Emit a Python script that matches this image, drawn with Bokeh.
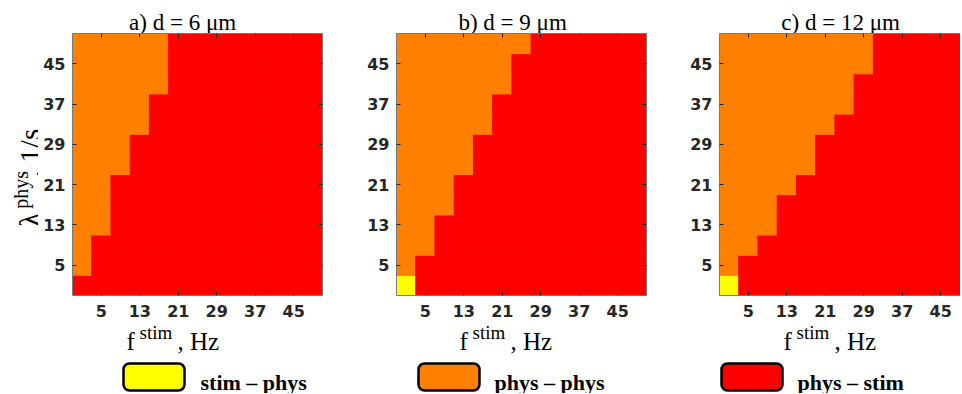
import numpy as np
from bokeh.plotting import figure
from bokeh.models import ColumnDataSource, FixedTicker, LinearAxis, Range1d
from bokeh.layouts import row, column
from bokeh.transform import factor_cmap
from bokeh.core.properties import value
from bokeh.embed import file_html
from bokeh.resources import INLINE

# ---------------- data ----------------
f_stim = [1, 5, 9, 13, 17, 21, 25, 29, 33, 37, 41, 45, 49]          # Hz (column centres)
lambda_phys = [1, 5, 9, 13, 17, 21, 25, 29, 33, 37, 41, 45, 49]     # 1/s (row centres)
tick_values = [5, 13, 21, 29, 37, 45]
regimes = ["stim – phys", "phys – phys", "phys – stim"]
regime_colors = ["#FFFF00", "#FF8000", "#FF0000"]
panel_titles = ["a) d =  6 μm", "b) d =  9 μm", "c) d =  12 μm"]

# per row (lambda ascending): number of columns (from low f) that are NOT phys – stim
nonstim_cols_a = [0, 1, 1, 2, 2, 2, 3, 3, 4, 4, 5, 5, 5]
nonstim_cols_b = [1, 1, 2, 2, 3, 3, 4, 4, 5, 5, 6, 6, 7]
nonstim_cols_c = [1, 1, 2, 3, 3, 4, 5, 5, 6, 7, 7, 8, 8]
# per row: number of columns (from low f) that are stim – phys
stimphys_cols_a = [0, 0, 0, 0, 0, 0, 0, 0, 0, 0, 0, 0, 0]
stimphys_cols_b = [1, 0, 0, 0, 0, 0, 0, 0, 0, 0, 0, 0, 0]
stimphys_cols_c = [1, 0, 0, 0, 0, 0, 0, 0, 0, 0, 0, 0, 0]

panels = [
    (nonstim_cols_a, stimphys_cols_a),
    (nonstim_cols_b, stimphys_cols_b),
    (nonstim_cols_c, stimphys_cols_c),
]

# ---------------- layout (pixels) ----------------
TOTAL_W = 960
TOP_H = 33
FRAME_H = 262
MID_BT, MID_BB = 0, 28
MID_H = MID_BT + FRAME_H + MID_BB          # 290
BOT_H = 70
YLAB_W = 38
px_per_unit = 250 / 52.0
fig_specs = [
    # width, min_left, min_right, frame_w, right_axis
    (302, 34, 18, 250, True),
    (324, 56, 18, 250, True),
    (296, 55, 0, 241, False),
]
title_cx = [185, 515, 843]
title_base = 28
xlabel_x0 = [126, 459, 783]
SERIF = "Liberation Serif"
LINE_GRAY = "#7a7a7a"
TICK_COL = "#262626"
BASE_FIX = 0.25   # em: compensation of the renderer's alphabetic-baseline offset


def strip(width, height):
    s = figure(width=width, height=height, output_backend="svg", toolbar_location=None,
               x_range=Range1d(0, width), y_range=Range1d(0, height),
               min_border=0, min_border_left=0, min_border_right=0,
               min_border_top=0, min_border_bottom=0)
    s.axis.visible = False
    s.grid.visible = False
    s.outline_line_color = None
    return s


def to_strip(page_y, strip_top, strip_h):
    # page pixel row -> upward strip coordinate
    return strip_top + strip_h - page_y


def style_axis(ax, labels=True):
    ax.ticker = FixedTicker(ticks=tick_values)
    ax.axis_line_color = LINE_GRAY
    ax.axis_line_width = 1
    ax.major_tick_in = 4
    ax.major_tick_out = 0
    ax.major_tick_line_color = TICK_COL
    ax.minor_tick_line_color = None
    ax.axis_label = None
    if labels:
        ax.major_label_text_font = "DejaVu Sans"
        ax.major_label_text_font_style = "bold"
        ax.major_label_text_font_size = "16px"
        ax.major_label_text_color = TICK_COL
    else:
        ax.major_label_overrides = {t: "" for t in tick_values}
        ax.major_label_text_font_size = "0px"
        ax.major_label_standoff = 0


# ---------------- top strip: titles ----------------
top = strip(TOTAL_W, TOP_H)
top.text(x=title_cx, y=[to_strip(title_base - BASE_FIX * 23, 0, TOP_H)] * 3, text=panel_titles,
         text_font=value(SERIF), text_font_size=value("23px"), text_color="black",
         text_align="center", text_baseline="alphabetic")

# ---------------- y-label strip ----------------
ylab = strip(YLAB_W, MID_H)
ylab_sizes = [29, 20, 29]
ylab_src = ColumnDataSource(dict(
    x=[bx - BASE_FIX * s for bx, s in zip([37, 25, 37], ylab_sizes)],
    y=[to_strip(v, TOP_H, MID_H) for v in (247, 227, 192)],
    text=["λ", "phys", ", 1/s"],
    size=[f"{s}px" for s in ylab_sizes]))
ylab.text(x="x", y="y", text="text", source=ylab_src, angle=np.pi / 2,
          text_font=value(SERIF), text_font_size="size", text_color="black",
          text_align="left", text_baseline="alphabetic")

# ---------------- heat-map panels ----------------
figs = []
for k, ((nonstim, stimphys), spec) in enumerate(zip(panels, fig_specs)):
    width, mleft, mright, frame_w, right_axis = spec
    xs, ys, regs = [], [], []
    for i, lam in enumerate(lambda_phys):
        for j, f in enumerate(f_stim):
            if j < stimphys[i]:
                r = regimes[0]
            elif j < nonstim[i]:
                r = regimes[1]
            else:
                r = regimes[2]
            xs.append(f)
            ys.append(lam)
            regs.append(r)
    src = ColumnDataSource(dict(f=xs, lam=ys, regime=regs))

    x_end = -1 + frame_w / px_per_unit
    p = figure(width=width, height=MID_H, output_backend="svg", toolbar_location=None,
               x_range=Range1d(-1, x_end), y_range=Range1d(-1, 51),
               min_border_left=mleft, min_border_right=mright,
               min_border_top=MID_BT, min_border_bottom=MID_BB,
               background_fill_color="white", border_fill_color="white")
    p.outline_line_color = None
    p.grid.visible = False
    cmap = factor_cmap("regime", palette=regime_colors, factors=regimes)
    p.rect(x="f", y="lam", width=4, height=4, source=src,
           fill_color=cmap, line_color=cmap, line_width=1)

    style_axis(p.xaxis[0])
    p.xaxis[0].major_label_standoff = 9
    style_axis(p.yaxis[0])
    p.yaxis[0].major_label_standoff = 7

    top_ax = LinearAxis()
    style_axis(top_ax, labels=False)
    p.add_layout(top_ax, "above")
    if right_axis:
        right_ax = LinearAxis()
        style_axis(right_ax, labels=False)
        p.add_layout(right_ax, "right")
    figs.append(p)

# ---------------- bottom strip: x labels + legend ----------------
y0 = TOP_H + MID_H
bot = strip(TOTAL_W, BOT_H)
xl_x, xl_y, xl_t, xl_s = [], [], [], []
for x0 in xlabel_x0:
    for dx, base, t, s in ((0, 347, "f", 25), (13, 337, "stim", 19), (51, 347, ", Hz", 25)):
        xl_x.append(x0 + dx)
        xl_y.append(to_strip(base - BASE_FIX * s, y0, BOT_H))
        xl_t.append(t)
        xl_s.append(f"{s}px")
bot.text(x="x", y="y", text="text",
         source=ColumnDataSource(dict(x=xl_x, y=xl_y, text=xl_t, size=xl_s)),
         text_font=value(SERIF), text_font_size="size", text_color="black",
         text_align="left", text_baseline="alphabetic")

box_left = [123, 418, 721]
text_left = [200, 494, 797]
leg_src = ColumnDataSource(dict(left=box_left, right=[b + 61 for b in box_left],
                                top=[to_strip(363, y0, BOT_H)] * 3,
                                bottom=[to_strip(390, y0, BOT_H)] * 3,
                                color=regime_colors))
bot.quad(left="left", right="right", top="top", bottom="bottom", source=leg_src,
         fill_color="color", line_color="black", line_width=2.5, border_radius=6)
bot.text(x=text_left, y=[to_strip(387 - BASE_FIX * 22, y0, BOT_H)] * 3, text=regimes,
         text_font=value(SERIF), text_font_size=value("22px"), text_font_style="bold",
         text_color="black", text_align="left", text_baseline="alphabetic")

layout = column(top, row(ylab, *figs, spacing=0), bot, spacing=0)
open("out.html", "w").write(file_html(layout, INLINE))
